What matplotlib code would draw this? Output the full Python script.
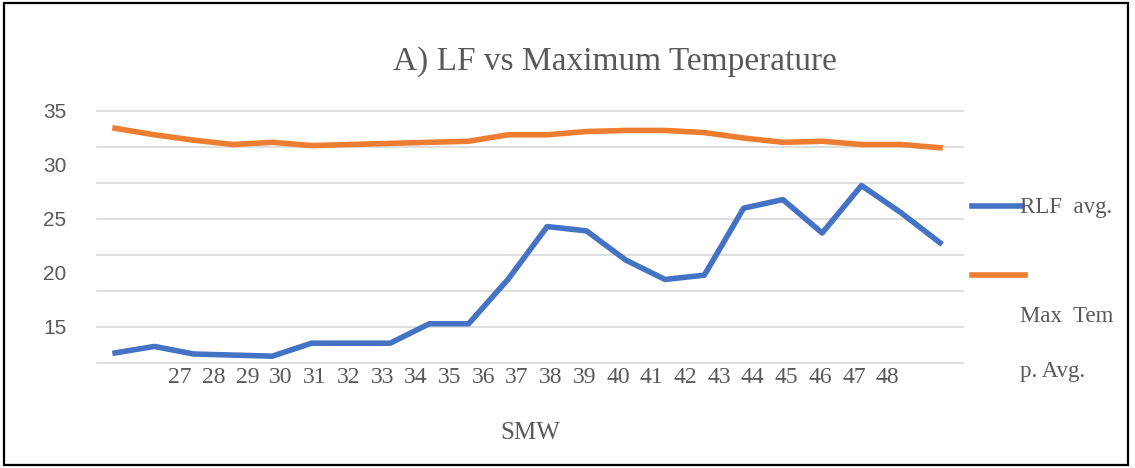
import matplotlib
matplotlib.use("Agg")
import matplotlib.pyplot as plt
import numpy as np
from matplotlib.lines import Line2D
from matplotlib.patches import Rectangle

# ─── data ─────────────────────────────
smw = list(range(27, 49))
rlf_avg = [12.6, 13.2, 12.5, 12.4, 12.3, 13.5, 13.5, 13.5, 15.3, 15.3, 19.4,
           24.3, 23.9, 21.2, 19.4, 19.8, 26.0, 26.8, 23.7, 28.1, 25.6, 22.8]
max_temp_avg = [33.4, 32.8, 32.3, 31.9, 32.1, 31.8, 31.9, 32.0, 32.1, 32.2, 32.8,
                32.8, 33.1, 33.2, 33.2, 33.0, 32.5, 32.1, 32.2, 31.9, 31.9, 31.6]
tick_labels = [str(w) for w in smw]
y_labels = [15, 20, 25, 30, 35]

BLUE = "#4472C4"
ORANGE = "#ED7D31"
GRAY = "#595959"
GRID = "#D9D9D9"

fig = plt.figure(figsize=(11.35, 4.68), dpi=100)
ax = fig.add_axes([97 / 1135, 1 - 363 / 468, 866 / 1135, 252 / 468])

# gridlines (spacing differs from the labelled values in the original)
for g in 35 - np.arange(8) * 10 / 3:
    ax.axhline(g, color=GRID, lw=1.2, zorder=0, clip_on=False)

ax.plot(smw, rlf_avg, color=BLUE, lw=4)
ax.plot(smw, max_temp_avg, color=ORANGE, lw=4)

ax.set_xlim(26.54, 48.585)
ax.set_ylim(35 - 7 * 10 / 3, 35)

ax.set_yticks(y_labels)
ax.set_yticklabels([str(v) for v in y_labels], family="Liberation Sans",
                   fontsize=15, color=GRAY)
ax.tick_params(axis="y", length=0, pad=22)

# x labels are squeezed and shifted relative to the points
ax.set_xticks(28.654 + 0.8577 * np.arange(len(smw)))
ax.set_xticklabels(tick_labels, family="Liberation Serif", fontsize=17, color=GRAY)
ax.tick_params(axis="x", length=0, pad=3)

for s in ax.spines.values():
    s.set_visible(False)

fig.text(615 / 1135, 1 - 62 / 468, "A) LF vs Maximum Temperature",
         family="Liberation Serif", fontsize=24, color=GRAY, ha="center", va="center")
fig.text(530 / 1135, 1 - 433 / 468, "SMW", family="Liberation Serif",
         fontsize=18, color=GRAY, ha="center", va="center")

# legend drawn by hand (text wraps oddly in the original)
fig.add_artist(Line2D([972 / 1135, 1022 / 1135], [1 - 206 / 468] * 2,
                      color=BLUE, lw=4, transform=fig.transFigure))
fig.add_artist(Line2D([972 / 1135, 1025 / 1135], [1 - 275 / 468] * 2,
                      color=ORANGE, lw=4, transform=fig.transFigure))
legend_font = dict(family="Liberation Serif", fontsize=16.5, color=GRAY, va="center")
fig.text(1020 / 1135, 1 - 207 / 468, "RLF  avg.", **legend_font)
fig.text(1020 / 1135, 1 - 316 / 468, "Max  Tem", **legend_font)
fig.text(1020 / 1135, 1 - 371 / 468, "p. Avg.", **legend_font)

# outer frame
fig.add_artist(Rectangle((4 / 1135, 3 / 468), 1124 / 1135, 462 / 468,
                         transform=fig.transFigure, fill=False, ec="black", lw=1.6))

fig.savefig("out.png", dpi=100)
